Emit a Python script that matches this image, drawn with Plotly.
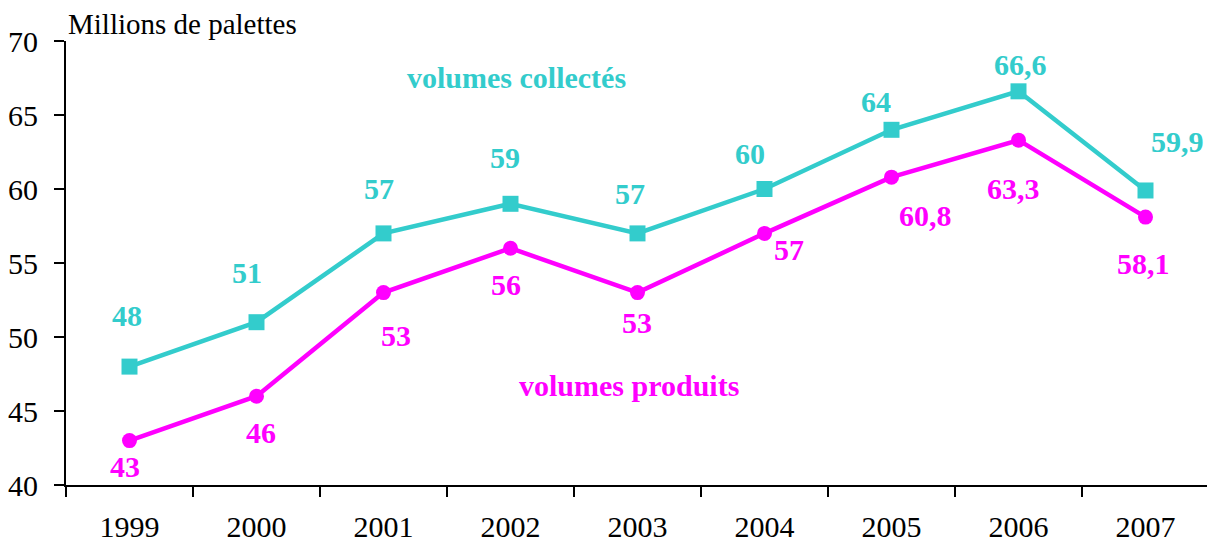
import plotly.graph_objects as go

years = ["1999", "2000", "2001", "2002", "2003", "2004", "2005", "2006", "2007"]
collectes = [48, 51, 57, 59, 57, 60, 64, 66.6, 59.9]
produits = [43, 46, 53, 56, 53, 57, 60.8, 63.3, 58.1]
collectes_txt = ["48", "51", "57", "59", "57", "60", "64", "66,6", "59,9"]
produits_txt = ["43", "46", "53", "56", "53", "57", "60,8", "63,3", "58,1"]

CYAN = "#33CCCC"
MAG = "#FF00FF"
FONT = "Liberation Serif"

# pixel offsets of the value labels (dx, dy downward)
c_off = [(-3, -51), (-10, -50), (-5, -45), (-6, -46), (-8, -40), (-15, -36), (-16, -28), (2, -27), (32, -49)]
p_off = [(-5, 26), (4, 36), (12, 43), (-5, 36), (-1, 30), (24, 16), (34, 38), (-5, 48), (-2, 46)]

fig = go.Figure()
fig.add_trace(go.Scatter(x=years, y=collectes, mode="lines+markers",
                         line=dict(color=CYAN, width=4.5),
                         marker=dict(symbol="square", size=16, color=CYAN),
                         showlegend=False))
fig.add_trace(go.Scatter(x=years, y=produits, mode="lines+markers",
                         line=dict(color=MAG, width=4.5),
                         marker=dict(symbol="circle", size=15, color=MAG),
                         showlegend=False))

ann = []
for i, y in enumerate(years):
    ann.append(dict(x=i, y=collectes[i], xref="x", yref="y", text=collectes_txt[i],
                    showarrow=False, xshift=c_off[i][0], yshift=-c_off[i][1],
                    xanchor="center", yanchor="middle",
                    font=dict(family=FONT, size=30, color=CYAN, weight="bold")))
    ann.append(dict(x=i, y=produits[i], xref="x", yref="y", text=produits_txt[i],
                    showarrow=False, xshift=p_off[i][0], yshift=-p_off[i][1],
                    xanchor="center", yanchor="middle",
                    font=dict(family=FONT, size=30, color=MAG, weight="bold")))
ann.append(dict(x=0.394, y=0.917, xref="paper", yref="paper", text="volumes collectés",
                showarrow=False, xanchor="center", yanchor="middle",
                font=dict(family=FONT, size=30, color=CYAN, weight="bold")))
ann.append(dict(x=0.4926, y=0.223, xref="paper", yref="paper", text="volumes produits",
                showarrow=False, xanchor="center", yanchor="middle",
                font=dict(family=FONT, size=30, color=MAG, weight="bold")))
ann.append(dict(x=0.0, y=1.0, xref="paper", yref="paper", text="Millions de palettes",
                showarrow=False, xanchor="left", yanchor="bottom", xshift=0, yshift=-1,
                font=dict(family=FONT, size=29, color="black")))
fig.update_layout(annotations=ann)

fig.update_layout(
    width=1207, height=538,
    margin=dict(l=58, r=6, t=33, b=61, autoexpand=False),
    paper_bgcolor="white", plot_bgcolor="white",
    font=dict(family=FONT, size=30, color="black"),
    xaxis=dict(type="category", tickson="boundaries", ticks="outside", ticklen=10,
               tickwidth=2, tickcolor="black", showline=True, linecolor="black",
               linewidth=2, showgrid=False, zeroline=False, range=[-0.5, 8.5],
               automargin=False, ticklabelstandoff=14,
               tickfont=dict(family=FONT, size=30)),
    yaxis=dict(range=[40, 70], dtick=5, ticks="outside", ticklen=10, tickwidth=2,
               tickcolor="black", showline=True, linecolor="black", linewidth=2,
               showgrid=False, zeroline=False, ticklabelstandoff=10, automargin=False,
               tickfont=dict(family=FONT, size=30)),
)

fig.write_html("out.html")
